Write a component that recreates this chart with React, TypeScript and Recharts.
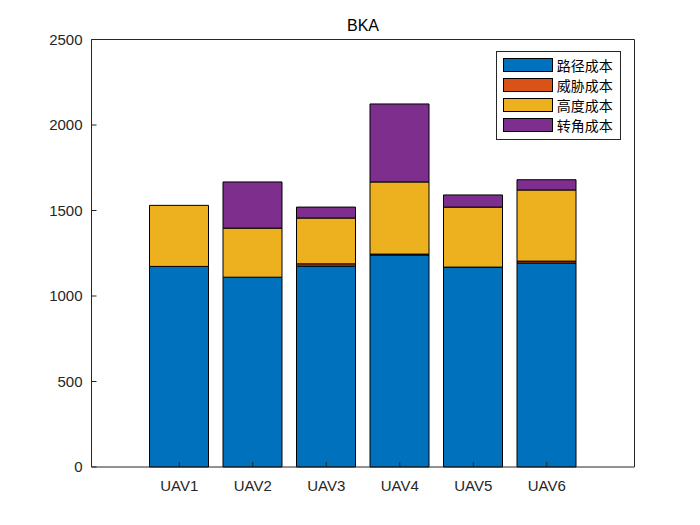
import { BarChart, Bar, XAxis, YAxis } from 'recharts';

const uavs = ['UAV1', 'UAV2', 'UAV3', 'UAV4', 'UAV5', 'UAV6'];
const pathCost = [1173, 1110, 1175, 1240, 1169, 1193];
const threatCost = [0, 0, 13, 5, 0, 11];
const heightCost = [357, 287, 268, 422, 351, 416];
const turnCost = [0, 270, 64, 456, 71, 60];

const seriesKeys = ['path', 'threat', 'height', 'turn'];
const seriesNames = ['路径成本', '威胁成本', '高度成本', '转角成本'];
const seriesColors = ['#0072BD', '#D95319', '#EDB120', '#7E2F8E'];
const yTicks = [0, 500, 1000, 1500, 2000, 2500];

const data = uavs.map((name, i) => ({
  name,
  path: pathCost[i],
  threat: threatCost[i],
  height: heightCost[i],
  turn: turnCost[i],
}));

const axisColor = '#262626';
const font = '"Liberation Sans", Arial, Helvetica, sans-serif';

export default function App() {
  return (
    <div style={{ position: 'absolute', left: 0, top: 0, width: 700, height: 525, background: '#fff' }}>
      <div
        style={{
          position: 'absolute', left: 263, top: 18, width: 200, textAlign: 'center',
          fontFamily: font, fontSize: 16, lineHeight: '16px', color: '#000',
        }}
      >
        BKA
      </div>
      <BarChart
        width={700}
        height={525}
        data={data}
        margin={{ top: 38.5, right: 64.5, bottom: 28, left: 31.5 }}
      >
        {seriesKeys.map((key, i) => (
          <Bar
            key={key}
            dataKey={key}
            name={seriesNames[i]}
            stackId="a"
            fill={seriesColors[i]}
            stroke="#000"
            strokeWidth={1}
            barSize={59}
            isAnimationActive={false}
          />
        ))}
        <XAxis
          dataKey="name"
          padding={{ left: 51, right: 51 }}
          height={30}
          tickSize={-5}
          tickMargin={18}
          stroke={axisColor}
          tick={{ fill: axisColor, fontSize: 15, fontFamily: font }}
        />
        <XAxis
          xAxisId="top"
          orientation="top"
          dataKey="name"
          padding={{ left: 51, right: 51 }}
          height={1}
          tickSize={-5}
          tick={false}
          stroke={axisColor}
        />
        <YAxis
          domain={[0, 2500]}
          ticks={yTicks}
          width={60}
          tickSize={-5}
          tickMargin={14}
          stroke={axisColor}
          tick={{ fill: axisColor, fontSize: 15, fontFamily: font }}
        />
        <YAxis
          yAxisId="right"
          orientation="right"
          type="number"
          domain={[0, 2500]}
          ticks={yTicks}
          allowDataOverflow
          width={1}
          tickSize={-5}
          tick={false}
          stroke={axisColor}
        />
      </BarChart>
      <div
        style={{
          position: 'absolute', left: 496, top: 51, width: 125, height: 89,
          boxSizing: 'border-box', border: `1px solid ${axisColor}`, background: '#fff',
        }}
      >
        {seriesNames.map((name, i) => (
          <div
            key={name}
            style={{ position: 'absolute', left: 5.7, top: 5.7 + 20.2 * i, height: 14, display: 'flex', alignItems: 'center' }}
          >
            <div style={{ width: 50, height: 14, boxSizing: 'border-box', border: '1px solid #000', background: seriesColors[i] }} />
            <span
              style={{
                marginLeft: 4, fontFamily: '"Noto Sans CJK SC", sans-serif', fontSize: 14,
                lineHeight: '14px', color: '#000', whiteSpace: 'nowrap',
              }}
            >
              {name}
            </span>
          </div>
        ))}
      </div>
    </div>
  );
}
